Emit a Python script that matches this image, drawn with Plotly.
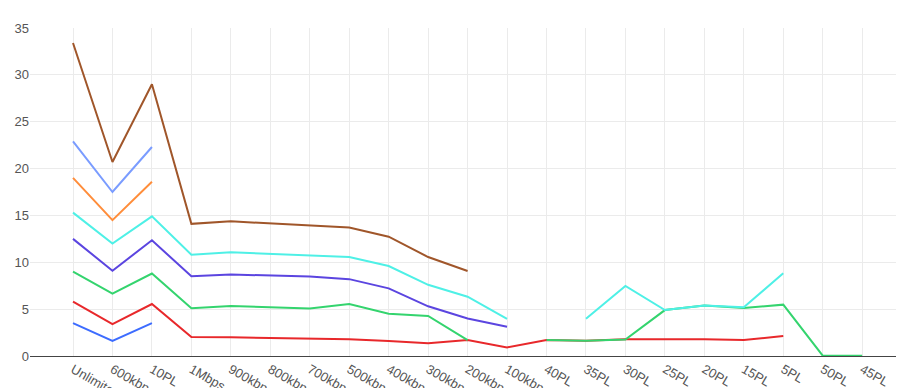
import plotly.graph_objects as go

categories = ["Unlimited", "600kbps", "10PL", "1Mbps", "900kbps", "800kbps", "700kbps",
              "500kbps", "400kbps", "300kbps", "200kbps", "100kbps", "40PL", "35PL",
              "30PL", "25PL", "20PL", "15PL", "5PL", "50PL", "45PL"]

N = None
blue_vals = [3.5, 1.6, 3.5] + [N] * 18
red_vals = [5.8, 3.4, 5.55, 2.03, 2.0, 1.93, 1.88, 1.78, 1.6, 1.35, 1.7, 0.92, 1.7, 1.64,
            1.78, 1.78, 1.8, 1.7, 2.13, N, N]
green_vals = [9.0, 6.65, 8.8, 5.1, 5.33, 5.2, 5.08, 5.55, 4.52, 4.27, 1.7, N, 1.7, 1.64,
              1.75, 4.9, 5.4, 5.12, 5.48, 0.03, 0.03]
purple_vals = [12.5, 9.1, 12.35, 8.5, 8.7, 8.6, 8.47, 8.2, 7.22, 5.3, 4.0, 3.13] + [N] * 9
cyan_vals = [15.3, 12.0, 14.9, 10.8, 11.06, 10.9, 10.74, 10.56, 9.6, 7.6, 6.33, 3.95, N, 3.98,
             7.47, 4.9, 5.4, 5.2, 8.82, N, N]
orange_vals = [19.0, 14.5, 18.6] + [N] * 18
lightblue_vals = [22.9, 17.5, 22.3] + [N] * 18
brown_vals = [33.4, 20.7, 29.0, 14.1, 14.37, 14.15, 13.9, 13.7, 12.73, 10.56, 9.07] + [N] * 10

y_ticks = [0, 5, 10, 15, 20, 25, 30, 35]

series = [
    ("blue", blue_vals, "#3d6cff"),
    ("red", red_vals, "#e8282b"),
    ("green", green_vals, "#34d46e"),
    ("purple", purple_vals, "#5b45e0"),
    ("cyan", cyan_vals, "#4ef0e6"),
    ("orange", orange_vals, "#ff8d3a"),
    ("lightblue", lightblue_vals, "#7a9cff"),
    ("brown", brown_vals, "#a0562a"),
]

fig = go.Figure()
for name, vals, color in series:
    fig.add_trace(go.Scatter(x=categories, y=vals, mode="lines", name=name,
                             line=dict(color=color, width=2), connectgaps=False,
                             showlegend=False))

fig.update_layout(
    width=904, height=388,
    margin=dict(l=21.5, r=8, t=20, b=40),
    paper_bgcolor="white", plot_bgcolor="white",
    font=dict(family="Liberation Sans, Arial, sans-serif", size=13, color="#555"),
    xaxis=dict(type="category", categoryorder="array", categoryarray=categories,
               range=[-1.09, 21.06], showgrid=True, gridcolor="#ebebeb", gridwidth=1,
               tickangle=30, showline=True, linecolor="#444", linewidth=1,
               zeroline=False, ticks="", tickfont=dict(size=13, color="#555"),
               automargin=False),
    yaxis=dict(range=[0, 35], tickvals=y_ticks, showgrid=True, gridcolor="#ebebeb",
               gridwidth=1, zeroline=False, showline=False, ticks="",
               tickfont=dict(size=13, color="#555"), automargin=False),
)

fig.write_html("out.html")
